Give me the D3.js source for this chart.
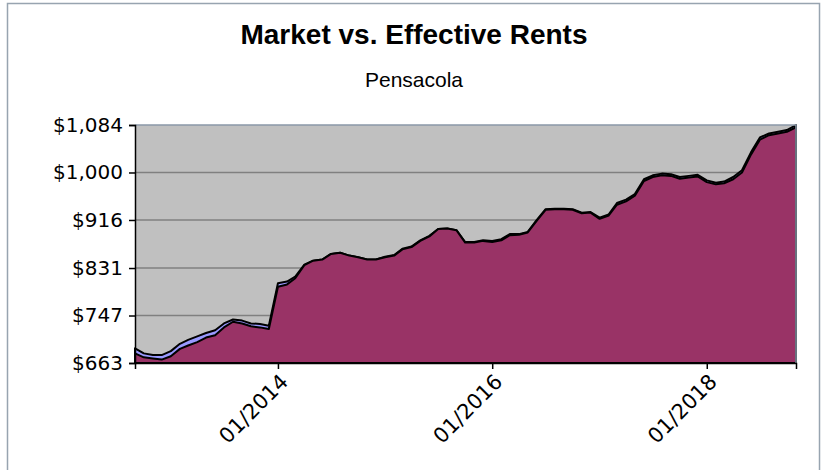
<!DOCTYPE html>
<html>
<head>
<meta charset="utf-8">
<script src="https://cdn.jsdelivr.net/npm/d3@7"></script>
<style>
  body { margin: 0; background: #fff; }
  svg { display: block; }
</style>
</head>
<body>
<div id="chart"></div>
<script>
let w = 824;
let h = 470;

// monthly, 09/2012 .. 11/2018
let startMonth = "2012-09";
let marketRent = [
  689, 680, 677, 677, 684, 697, 704, 710, 716, 721, 733, 740, 738, 733, 732, 729,
  804, 807, 816, 837, 844, 846, 856, 858, 853, 850, 846, 846,
  851, 854, 865, 869, 880, 888, 900, 901, 898, 877, 877, 880,
  879, 882, 891, 891, 895, 916, 935, 936, 936, 935, 929, 930,
  920, 926, 946, 952, 962, 988, 995, 998, 997, 992, 994, 996,
  986, 982, 984, 992, 1004, 1036, 1062, 1069, 1072, 1075, 1084
];
let effectiveRent = [
  680, 673, 671, 669, 675, 688, 694, 700, 708, 712, 726, 736, 733, 728, 726, 723,
  798, 802, 813, 836, 844, 846, 856, 858, 853, 850, 846, 846,
  850, 853, 864, 868, 879, 887, 900, 901, 898, 876, 876, 879,
  877, 880, 889, 890, 894, 915, 934, 935, 935, 934, 928, 929,
  918, 924, 943, 949, 959, 985, 992, 995, 994, 989, 991, 993,
  983, 979, 981, 988, 1000, 1032, 1058, 1066, 1069, 1072, 1080
];
let yTicks = [663, 747, 831, 916, 1000, 1084];
let xTickLabels = ["01/2014", "01/2016", "01/2018"];

let parseMonth = d3.timeParse("%Y-%m");
let start = parseMonth(startMonth);
let data = marketRent.map(function(m, i){
  return { date: d3.timeMonth.offset(start, i), market: m, effective: effectiveRent[i] };
});

let pLeft = 135, pRight = 796, pTop = 125, pBottom = 363;

let viz = d3.select("#chart")
  .append("svg")
  .attr("width", w)
  .attr("height", h)
;

// outer frame
viz.append("rect")
  .attr("x", 7.5).attr("y", 3.5)
  .attr("width", 812).attr("height", 500)
  .attr("fill", "#fff")
  .attr("stroke", "#98a4b0")
  .attr("stroke-width", 1.5)
;

viz.append("text")
  .attr("x", 414).attr("y", 44)
  .attr("text-anchor", "middle")
  .style("font-family", "'Liberation Sans', Arial, sans-serif")
  .style("font-weight", "bold")
  .style("font-size", "28px")
  .text("Market vs. Effective Rents");

viz.append("text")
  .attr("x", 414).attr("y", 87)
  .attr("text-anchor", "middle")
  .style("font-family", "'Liberation Sans', Arial, sans-serif")
  .style("font-size", "21px")
  .text("Pensacola");

let xScale = d3.scaleTime()
  .domain(d3.extent(data, d => d.date))
  .range([pLeft, pRight]);
let yScale = d3.scaleLinear()
  .domain([663, 1084])
  .range([pBottom, pTop]);

// plot background
viz.append("rect")
  .attr("x", pLeft).attr("y", pTop)
  .attr("width", pRight - pLeft).attr("height", pBottom - pTop)
  .attr("fill", "#c0c0c0")
;

// gridlines
viz.append("g").selectAll("line")
  .data(yTicks.slice(1, -1)).enter()
  .append("line")
  .attr("x1", pLeft).attr("x2", pRight)
  .attr("y1", d => yScale(d)).attr("y2", d => yScale(d))
  .attr("stroke", "#808080")
  .attr("stroke-width", 1.5)
;

let marketArea = d3.area()
  .x(d => xScale(d.date))
  .y0(pBottom)
  .y1(d => yScale(d.market));
let effectiveArea = d3.area()
  .x(d => xScale(d.date))
  .y0(pBottom)
  .y1(d => yScale(d.effective));

viz.append("path")
  .datum(data)
  .attr("d", marketArea)
  .attr("fill", "#9999ff")
  .attr("stroke", "#000")
  .attr("stroke-width", 2)
  .attr("stroke-linejoin", "round")
;
viz.append("path")
  .datum(data)
  .attr("d", effectiveArea)
  .attr("fill", "#993366")
  .attr("stroke", "#000")
  .attr("stroke-width", 2)
  .attr("stroke-linejoin", "round")
;

// plot border top/right
viz.append("path")
  .attr("d", "M" + pLeft + "," + pTop + "H" + pRight + "V" + pBottom)
  .attr("fill", "none")
  .attr("stroke", "#8a98a8")
  .attr("stroke-width", 1.5)
;

// y axis
let yAxis = d3.axisLeft(yScale)
  .tickValues(yTicks)
  .tickSize(6)
  .tickFormat(d => "$" + d3.format(",")(d));
let yAxisGroup = viz.append("g")
  .attr("transform", "translate(" + pLeft + ",0)")
  .call(yAxis);
yAxisGroup.select(".domain").attr("stroke", "#000").attr("stroke-width", 1.5);
yAxisGroup.selectAll(".tick line").attr("stroke-width", 1.5);
yAxisGroup.selectAll("text")
  .attr("x", -12)
  .style("font-family", "'DejaVu Sans', Verdana, sans-serif")
  .style("font-size", "20px")
  .attr("fill", "#000");

// x axis
let fmt = d3.timeFormat("%m/%Y");
let xTickDates = xTickLabels.map(d => d3.timeParse("%m/%Y")(d));
let xAxis = d3.axisBottom(xScale)
  .tickValues(xTickDates)
  .tickSize(6)
  .tickFormat(fmt);
let xAxisGroup = viz.append("g")
  .attr("transform", "translate(0," + pBottom + ")")
  .call(xAxis);
xAxisGroup.select(".domain").attr("stroke", "#000").attr("stroke-width", 1.5);
xAxisGroup.selectAll(".tick line").attr("stroke-width", 1.5);
xAxisGroup.selectAll("text")
  .attr("text-anchor", "end")
  .attr("dy", 0)
  .attr("transform", "translate(11,20) rotate(-45)")
  .attr("y", 0)
  .attr("x", 0)
  .style("font-family", "'DejaVu Sans', Verdana, sans-serif")
  .style("font-size", "21px")
  .attr("fill", "#000");
</script>
</body>
</html>
